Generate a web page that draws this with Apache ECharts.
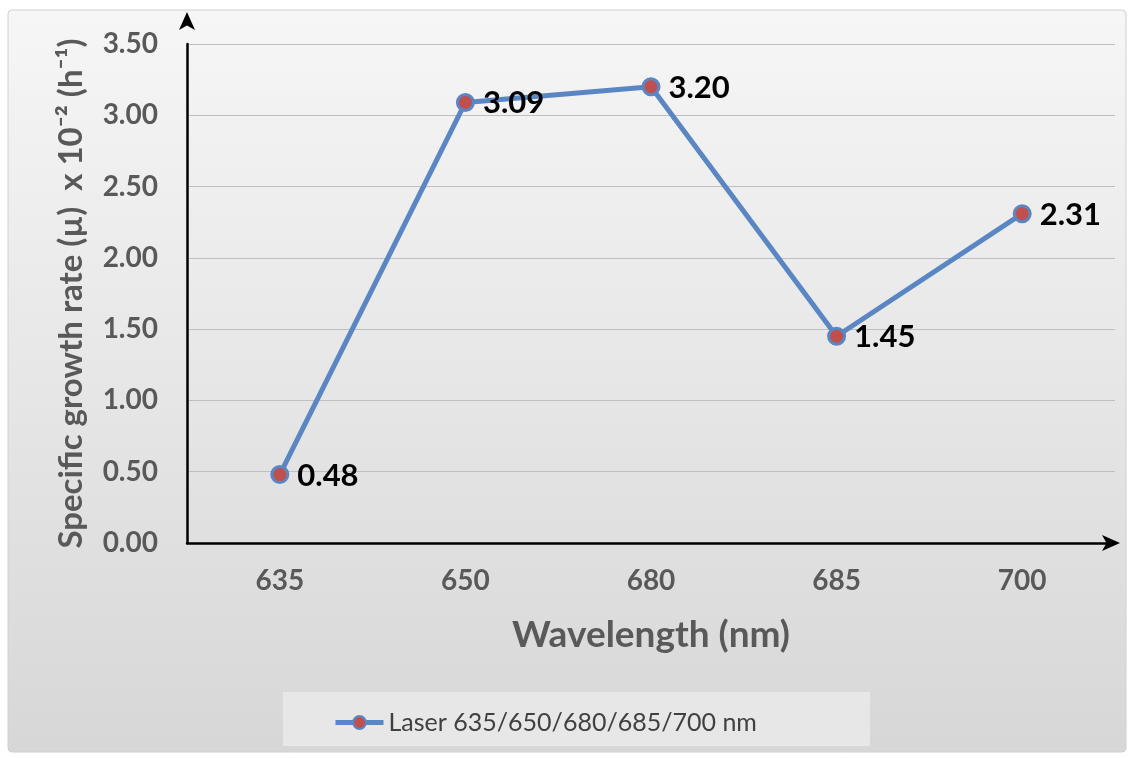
<!DOCTYPE html>
<html>
<head>
<meta charset="utf-8">
<script src="https://cdn.jsdelivr.net/npm/echarts@6/dist/echarts.min.js"></script>
<style>html,body{margin:0;padding:0;background:#fff}#c{width:1133px;height:758px}</style>
</head>
<body>
<div id="c"></div>
<script>
const categories = ['635', '650', '680', '685', '700'];
const growthRate = [0.48, 3.09, 3.20, 1.45, 2.31];
const seriesName = 'Laser 635/650/680/685/700 nm';
const yTitle = 'Specific growth rate (µ)  x 10⁻² (h⁻¹)';
const xTitle = 'Wavelength (nm)';

const chart = echarts.init(document.getElementById('c'));
const FONT = 'Lato';
chart.setOption({
  animation: false,
  graphic: [
    { type: 'rect', z: -10, shape: { x: 8, y: 10, width: 1118, height: 742, r: 4 },
      style: { fill: new echarts.graphic.LinearGradient(0, 0, 0, 1, [
        { offset: 0, color: '#f6f6f6' }, { offset: 1, color: '#d7d7d7' }]), stroke: '#d0d0d0', lineWidth: 1 } },
    { type: 'rect', z: -9, shape: { x: 283, y: 692, width: 587, height: 54 },
      style: { fill: '#e7e7e7', stroke: 'none' } }
  ],
  grid: { left: 187, right: 18, top: 44, bottom: 215 },
  legend: {
    top: 705, left: 328,
    itemWidth: 48, itemHeight: 16, itemGap: 6,
    lineStyle: { width: 5 },
    textStyle: { fontFamily: FONT, fontSize: 25, color: '#404040' },
    data: [seriesName]
  },
  xAxis: {
    type: 'category', data: categories,
    name: xTitle, nameLocation: 'middle', nameGap: 74,
    nameTextStyle: { fontFamily: FONT, fontSize: 37, fontWeight: 'bold', color: '#595959' },
    axisLine: { lineStyle: { color: '#000', width: 2.5 }, symbol: ['none', 'arrow'], symbolSize: [12, 18], symbolOffset: [0, 5] },
    axisTick: { show: false },
    axisLabel: { fontFamily: FONT, fontSize: 28, fontWeight: 'bold', color: '#595959', margin: 24 }
  },
  yAxis: {
    type: 'value', min: 0, max: 3.5, interval: 0.5,
    name: yTitle, nameLocation: 'middle', nameGap: 99, nameRotate: 90,
    nameTextStyle: { fontFamily: FONT, fontSize: 33, fontWeight: 'bold', color: '#595959' },
    axisLine: { show: true, lineStyle: { color: '#000', width: 2.5 }, symbol: ['none', 'arrow'], symbolSize: [12, 18], symbolOffset: [0, 32] },
    axisTick: { show: false },
    splitLine: { lineStyle: { color: '#bfbfbf', width: 1 } },
    axisLabel: { fontFamily: FONT, fontSize: 28, fontWeight: 'bold', color: '#595959', margin: 29,
      formatter: v => v.toFixed(2) }
  },
  series: [{
    name: seriesName, type: 'line', data: growthRate,
    symbol: 'circle', symbolSize: 16,
    lineStyle: { color: '#5a86c4', width: 5 },
    itemStyle: { color: '#c0504d', borderColor: '#5a86c4', borderWidth: 3 },
    label: { show: true, position: 'right', distance: 8, offset: [0, 1],
      fontFamily: FONT, fontSize: 31, fontWeight: 'bold', color: '#000',
      formatter: p => p.value.toFixed(2) }
  }]
});
</script>
</body>
</html>
